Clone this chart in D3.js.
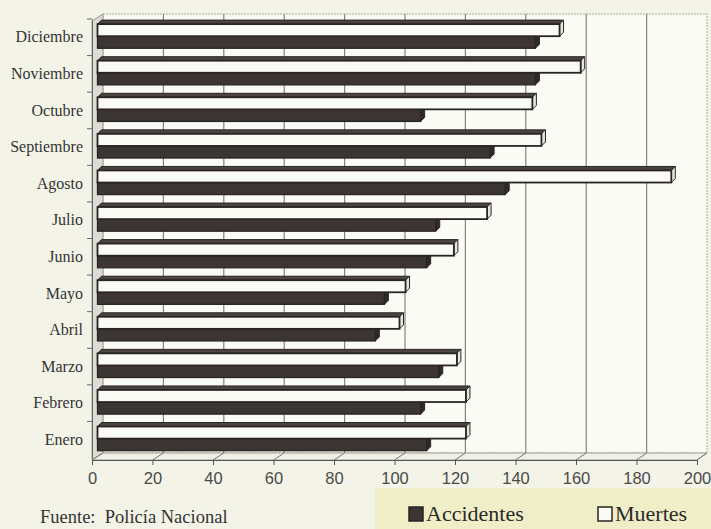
<!DOCTYPE html>
<html>
<head>
<meta charset="utf-8">
<script src="https://cdn.jsdelivr.net/npm/d3@7"></script>
<style>
  body { margin: 0; background: #f3f3e8; }
  svg { display: block; }
</style>
</head>
<body>
<div id="chart"></div>
<script>
// Accidentes y muertes por mes (lectura del grafico)
var months = ["Enero", "Febrero", "Marzo", "Abril", "Mayo", "Junio",
              "Julio", "Agosto", "Septiembre", "Octubre", "Noviembre", "Diciembre"];
var accidentes = [109, 107, 113, 92, 95, 109, 112, 135, 130, 107, 145, 145];
var muertes    = [122, 122, 119, 100, 102, 118, 129, 190, 147, 144, 160, 153];
var series = ["Muertes", "Accidentes"];
var xTicks = [0, 20, 40, 60, 80, 100, 120, 140, 160, 180, 200];

var width = 711, height = 529;
var dx = 4, dy = 4;   // profundidad 3D

var svg = d3.select("#chart").append("svg")
    .attr("width", width).attr("height", height);

var xFront = d3.scaleLinear().domain([0, 200]).range([92, 697]);
var xBack  = d3.scaleLinear().domain([0, 200]).range([103, 707]);
var xBar   = d3.scaleLinear().domain([0, 200]).range([97.5, 701.5]);

var y = d3.scaleBand()
    .domain(months.slice().reverse())
    .range([19, 458]);
var bw = y.bandwidth();
var ySub = d3.scaleBand().domain(series).range([bw * 0.14, bw * 0.80]);

var yTop = 14, yBottom = 453, yAxis = 460;

// pared del fondo
svg.append("rect")
    .attr("x", xBack(0)).attr("y", yTop)
    .attr("width", xBack(200) - xBack(0)).attr("height", yBottom - yTop)
    .attr("fill", "#fbfbf5")
    .attr("stroke", "#a8a8a0").attr("stroke-dasharray", "2,1");

// pared izquierda
svg.append("polygon")
    .attr("points", [[92, yTop + 7], [xBack(0), yTop], [xBack(0), yBottom], [92, yAxis]].join(" "))
    .attr("fill", "#dcdcd5").attr("stroke", "#9a9a92");

// lineas de division
svg.selectAll(".grid").data(xTicks.slice(1, -1)).enter().append("line")
    .attr("x1", function(d) { return xBack(d); })
    .attr("x2", function(d) { return xBack(d); })
    .attr("y1", yTop).attr("y2", yBottom)
    .attr("stroke", "#85857f").attr("stroke-width", 1.2);

// piso
svg.append("polygon")
    .attr("points", [[92, yAxis], [xBack(0), yBottom], [xBack(200), yBottom], [xFront(200), yAxis]].join(" "))
    .attr("fill", "#efefe6").attr("stroke", "#a0a09a");
svg.selectAll(".floor").data(xTicks).enter().append("line")
    .attr("x1", function(d) { return xFront(d); })
    .attr("x2", function(d) { return xBack(d); })
    .attr("y1", yAxis).attr("y2", yBottom)
    .attr("stroke", "#777");

// barras
var groups = svg.selectAll(".month").data(months).enter().append("g")
    .attr("transform", function(d) { return "translate(0," + y(d) + ")"; });

function drawBar(g, value, s, fill, topFill, sideFill, sw) {
  var x0 = xBar(0), x1 = xBar(value), y0 = ySub(s), h = ySub.bandwidth();
  g.append("polygon")
      .attr("points", [[x0, y0], [x0 + dx, y0 - dy], [x1 + dx, y0 - dy], [x1, y0]].join(" "))
      .attr("fill", topFill).attr("stroke", "#2a2523").attr("stroke-width", 1);
  g.append("polygon")
      .attr("points", [[x1, y0], [x1 + dx, y0 - dy], [x1 + dx, y0 + h - dy], [x1, y0 + h]].join(" "))
      .attr("fill", sideFill)
      .attr("stroke", "#2a2523").attr("stroke-width", 1);
  g.append("rect")
      .attr("x", x0).attr("y", y0)
      .attr("width", x1 - x0).attr("height", h)
      .attr("fill", fill).attr("stroke", "#2a2523").attr("stroke-width", sw);
}

groups.each(function(m, i) {
  var g = d3.select(this);
  drawBar(g, accidentes[i], "Accidentes", "#3b3634", "#2e2a28", "#2e2a28", 1.3);
  drawBar(g, muertes[i], "Muertes", "#fbfbf6", "#4a4542", "#e6e6de", 1.8);
});

// eje vertical
var yAxisG = svg.append("g")
    .attr("transform", "translate(92,0)")
    .call(d3.axisLeft(y).tickSize(0).tickPadding(9));
yAxisG.select(".domain").attr("stroke", "#666");
yAxisG.selectAll("text")
    .attr("font-family", "Liberation Serif, serif")
    .attr("font-size", 16).attr("fill", "#333");
svg.selectAll(".ytick").data(months).enter().append("line")
    .attr("x1", 87).attr("x2", 92)
    .attr("y1", function(d) { return y(d); })
    .attr("y2", function(d) { return y(d); })
    .attr("stroke", "#666");

// eje horizontal
var xAxisG = svg.append("g")
    .attr("transform", "translate(0," + yAxis + ")")
    .call(d3.axisBottom(xFront).tickValues(xTicks).tickSize(5).tickPadding(7).tickSizeOuter(0));
xAxisG.select(".domain").attr("stroke", "#555");
xAxisG.selectAll("line").attr("stroke", "#555");
xAxisG.selectAll("text")
    .attr("font-family", "Liberation Sans, Arial, sans-serif")
    .attr("font-size", 16.5).attr("fill", "#4a4a4a");

// fuente
svg.append("text")
    .attr("x", 40).attr("y", 523)
    .attr("font-family", "Liberation Serif, serif")
    .attr("font-size", 18.5).attr("fill", "#333")
    .attr("xml:space", "preserve")
    .text("Fuente:  Policía Nacional");

// leyenda
svg.append("rect")
    .attr("x", 375).attr("y", 488).attr("width", width - 375).attr("height", height - 488)
    .attr("fill", "#f0eec6");
var legend = svg.selectAll(".legend").data(series.slice().reverse()).enter().append("g")
    .attr("transform", function(d, i) { return "translate(" + (i === 0 ? 409 : 598) + ",507)"; });
legend.append("rect")
    .attr("width", 14).attr("height", 14)
    .attr("fill", function(d) { return d === "Accidentes" ? "#3b3634" : "#fbfbf6"; })
    .attr("stroke", "#2a2523").attr("stroke-width", 1.5);
legend.append("text")
    .attr("x", 17).attr("y", 14)
    .attr("font-family", "Liberation Serif, serif")
    .attr("font-size", 22).attr("fill", "#2a2a2a")
    .text(function(d) { return d; });
</script>
</body>
</html>
